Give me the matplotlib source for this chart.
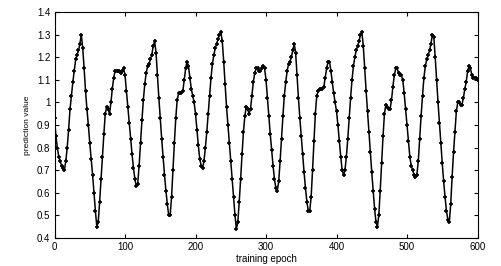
import numpy as np
import matplotlib
matplotlib.use("Agg")
import matplotlib.pyplot as plt
from matplotlib.ticker import FormatStrFormatter

# prediction value, one sample every 2 training epochs (0..600)
prediction = [
    0.93, 0.85, 0.80, 0.76, 0.74, 0.72, 0.71, 0.70, 0.74, 0.80,
    0.88, 0.97, 1.03, 1.09, 1.14, 1.19, 1.21, 1.23, 1.26, 1.30,
    1.24, 1.15, 1.05, 0.97, 0.90, 0.82, 0.75, 0.68, 0.60, 0.52,
    0.45, 0.47, 0.56, 0.66, 0.76, 0.86, 0.95, 0.98, 0.97, 0.95,
    1.00, 1.06, 1.11, 1.14, 1.14, 1.14, 1.14, 1.13, 1.14, 1.15,
    1.12, 1.05, 0.98, 0.91, 0.84, 0.77, 0.71, 0.66, 0.63, 0.64,
    0.72, 0.82, 0.92, 1.01, 1.08, 1.13, 1.16, 1.17, 1.19, 1.21,
    1.25, 1.27, 1.22, 1.12, 1.02, 0.93, 0.84, 0.76, 0.68, 0.61,
    0.55, 0.50, 0.50, 0.58, 0.70, 0.82, 0.93, 1.01, 1.04, 1.04,
    1.04, 1.05, 1.10, 1.15, 1.18, 1.16, 1.11, 1.06, 1.03, 1.00,
    0.95, 0.88, 0.81, 0.75, 0.72, 0.71, 0.74, 0.80, 0.87, 0.95,
    1.03, 1.11, 1.17, 1.21, 1.24, 1.26, 1.28, 1.30, 1.31, 1.27,
    1.18, 1.08, 0.98, 0.90, 0.82, 0.74, 0.66, 0.58, 0.50, 0.44,
    0.47, 0.56, 0.66, 0.77, 0.87, 0.94, 0.98, 0.97, 0.95, 0.97,
    1.03, 1.09, 1.13, 1.15, 1.15, 1.14, 1.14, 1.15, 1.16, 1.15,
    1.10, 1.02, 0.94, 0.86, 0.79, 0.72, 0.66, 0.62, 0.61, 0.65,
    0.74, 0.84, 0.94, 1.03, 1.09, 1.14, 1.17, 1.18, 1.20, 1.23,
    1.26, 1.22, 1.12, 1.02, 0.93, 0.85, 0.77, 0.69, 0.62, 0.56,
    0.52, 0.52, 0.58, 0.70, 0.83, 0.95, 1.03, 1.05, 1.06, 1.06,
    1.06, 1.07, 1.11, 1.15, 1.18, 1.18, 1.14, 1.09, 1.04, 1.00,
    0.96, 0.90, 0.83, 0.76, 0.70, 0.68, 0.70, 0.76, 0.84, 0.93,
    1.02, 1.10, 1.16, 1.20, 1.23, 1.25, 1.27, 1.30, 1.31, 1.25,
    1.15, 1.05, 0.96, 0.87, 0.78, 0.69, 0.61, 0.53, 0.47, 0.45,
    0.50, 0.61, 0.73, 0.85, 0.95, 0.99, 0.98, 0.97, 0.97, 1.01,
    1.07, 1.12, 1.15, 1.15, 1.13, 1.12, 1.12, 1.10, 1.04, 0.97,
    0.90, 0.83, 0.76, 0.72, 0.70, 0.68, 0.67, 0.68, 0.74, 0.84,
    0.94, 1.03, 1.11, 1.16, 1.19, 1.21, 1.23, 1.26, 1.30, 1.29,
    1.20, 1.10, 1.00, 0.91, 0.82, 0.73, 0.65, 0.58, 0.52, 0.48,
    0.47, 0.55, 0.67, 0.78, 0.87, 0.96, 1.00, 1.00, 0.99, 0.99,
    1.02, 1.06, 1.09, 1.14, 1.16, 1.15, 1.12, 1.11, 1.11, 1.11,
    1.10,
]
epoch_step = 2
x_ticks = [0, 100, 200, 300, 400, 500, 600]
y_ticks = [0.4, 0.5, 0.6, 0.7, 0.8, 0.9, 1.0, 1.1, 1.2, 1.3, 1.4]

epochs = np.arange(len(prediction)) * epoch_step

plt.rcParams["font.family"] = ["Liberation Sans", "DejaVu Sans"]

fig = plt.figure(figsize=(5.02, 2.66), dpi=100)
ax = fig.add_axes([0.1086, 0.1053, 0.8426, 0.8496])

ax.plot(epochs, prediction, color="black", lw=1.1, marker="+",
        ms=3.5, mew=1.2, mec="black")

ax.set_xlim(0, 600)
ax.set_ylim(0.4, 1.4)
ax.set_xticks(x_ticks)
ax.set_yticks(y_ticks)
ax.yaxis.set_major_formatter(FormatStrFormatter("%g"))
ax.tick_params(direction="in", length=3, width=0.8, labelsize=7,
               top=True, right=True, pad=3)
for s in ax.spines.values():
    s.set_linewidth(0.8)

ax.set_xlabel("training epoch", fontsize=7, labelpad=1)
ax.set_ylabel("prediction value", fontsize=6, labelpad=4)

fig.savefig("out.png", dpi=100)
